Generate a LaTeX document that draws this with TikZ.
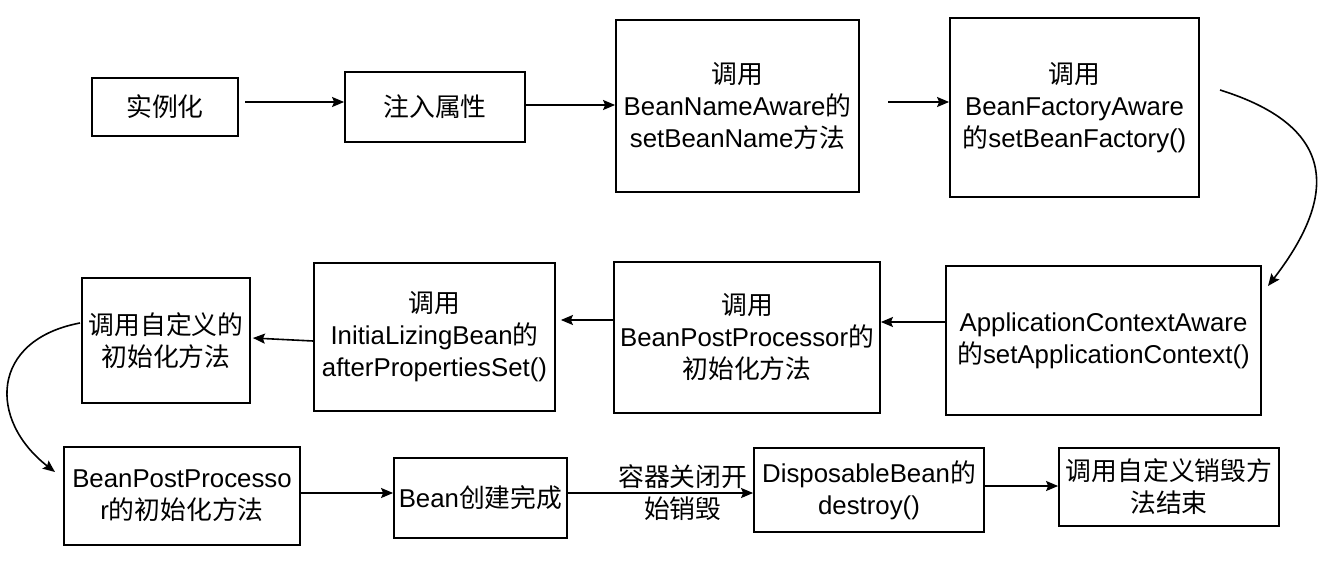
\documentclass[tikz,border=0pt]{standalone}
\usepackage{fontspec}
\setmainfont{Liberation Sans}
\newfontfamily\cjkfont{Noto Sans CJK SC}
\newcommand\zh[1]{{\cjkfont #1}}
\usetikzlibrary{arrows.meta}
\begin{document}
\begin{tikzpicture}[x=1pt,y=-1pt,
  box/.style={draw, line width=1.8pt, align=center, inner sep=0pt,
    font=\fontsize{25.8}{32}\selectfont},
  arr/.style={line width=1.6pt, -{Stealth[length=12pt,width=10pt,inset=2pt]}},
  lbl/.style={align=center, inner sep=0pt, font=\fontsize{25.8}{32}\selectfont}]
\useasboundingbox (0,0) rectangle (1322,578);
\node[box, minimum width=146pt, minimum height=58pt] (n1) at (165,107) {\zh{实例化}};
\node[box, minimum width=180pt, minimum height=70pt] (n2) at (435,107) {\zh{注入属性}};
\node[box, minimum width=243pt, minimum height=172pt] (n3) at (737.5,106) {\zh{调用}\\BeanNameAware\zh{的}\\setBeanName\zh{方法}};
\node[box, minimum width=249pt, minimum height=179pt] (n4) at (1074.5,107.5) {\zh{调用}\\BeanFactoryAware\\\zh{的}setBeanFactory()};
\node[box, minimum width=315pt, minimum height=149pt] (n5) at (1103.5,340.5) {ApplicationContextAware\\\zh{的}setApplicationContext()};
\node[box, minimum width=266pt, minimum height=151pt] (n6) at (747,337.5) {\zh{调用}\\BeanPostProcessor\zh{的}\\\zh{初始化方法}};
\node[box, minimum width=241pt, minimum height=148pt] (n7) at (434.5,337) {\zh{调用}\\InitiaLizingBean\zh{的}\\afterPropertiesSet()};
\node[box, minimum width=168pt, minimum height=125pt] (n8) at (166,340.5) {\zh{调用自定义的}\\\zh{初始化方法}};
\node[box, minimum width=236pt, minimum height=98pt] (n9) at (182,496) {BeanPostProcesso\\r\zh{的初始化方法}};
\node[box, minimum width=173pt, minimum height=80pt] (n10) at (480.5,498) {Bean\zh{创建完成}};
\node[box, minimum width=230pt, minimum height=84pt] (n11) at (869,490) {DisposableBean\zh{的}\\destroy()};
\node[box, minimum width=220pt, minimum height=78pt] (n12) at (1169,487) {\zh{调用自定义销毁方}\\\zh{法结束}};
\coordinate (c1) at (245,102);
\coordinate (c3) at (888,102);
\coordinate (c4s) at (1220,90);
\coordinate (c4e) at (1268,286);
\coordinate (c8s) at (80,323);
\coordinate (c8e) at (55,472);
\draw[arr] (c1) -- (n2.west |- c1);
\draw[arr] (n2.east |- 0,105) -- (n3.west |- 0,105);
\draw[arr] (c3) -- (n4.west |- c3);
\draw[arr] (c4s) .. controls (1332,125) and (1342,190) .. (c4e);
\draw[arr] (n5.west |- 0,322) -- (n6.east |- 0,322);
\draw[arr] (n6.west |- 0,320) -- ([xshift=5pt]n7.east |- 0,320);
\draw[arr] (n7.west |- 0,341) -- ([xshift=2pt]n8.east |- 0,338);
\draw[arr] (c8s) .. controls (-10,340) and (-12,420) .. (c8e);
\draw[arr] (n9.east |- 0,493) -- (n10.west |- 0,493);
\draw[arr] (n10.east |- 0,493) -- node[lbl, pos=0.62] (l1) {\zh{容器关闭开}\\\zh{始销毁}} (n11.west |- 0,493);
\draw[arr] (n11.east |- 0,486) -- (n12.west |- 0,486);
\end{tikzpicture}
\end{document}
